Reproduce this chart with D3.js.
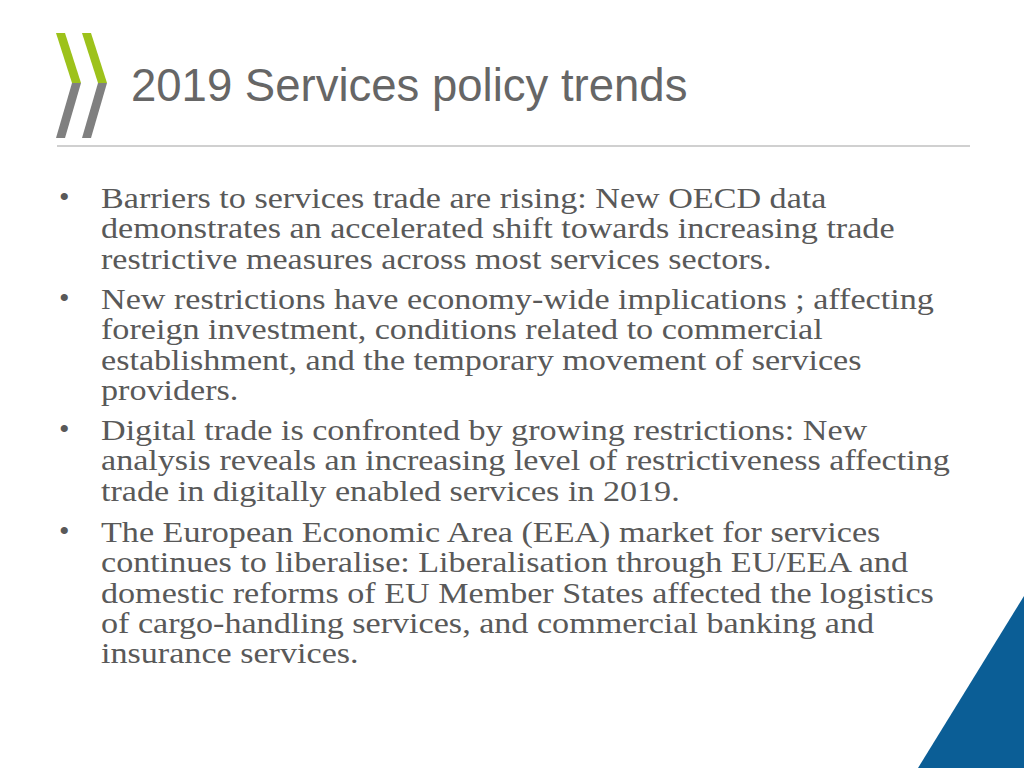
<!DOCTYPE html>
<html><head><meta charset="utf-8">
<script src="https://cdn.jsdelivr.net/npm/d3@7"></script>
<style>body{margin:0;background:#fff}</style></head>
<body><svg id="s" width="1024" height="768"></svg>
<script>
const title = "2019 Services policy trends";
const bullets = [
  ["Barriers to services trade are rising: New OECD data","demonstrates an accelerated shift towards increasing trade","restrictive measures across most services sectors."],
  ["New restrictions have economy-wide implications ; affecting","foreign investment, conditions related to commercial","establishment, and the temporary movement of services","providers."],
  ["Digital trade is confronted by growing restrictions: New","analysis reveals an increasing level of restrictiveness affecting","trade in digitally enabled services in 2019."],
  ["The European Economic Area (EEA) market for services","continues to liberalise: Liberalisation through EU/EEA and","domestic reforms of EU Member States affected the logistics","of cargo-handling services, and commercial banking and","insurance services."]
];
const svg = d3.select("#s");
[0,26].forEach(dx=>{
  svg.append("polygon").attr("points",[[56+dx,33],[65+dx,33],[81+dx,83],[72+dx,83]].join(" ")).attr("fill","#9dc21b");
  svg.append("polygon").attr("points",[[72+dx,83],[81+dx,83],[65+dx,138],[56+dx,138]].join(" ")).attr("fill","#808080");
});
svg.append("text").attr("x",131).attr("y",101).attr("font-family","Liberation Sans, Arial").attr("font-size",45.5).attr("fill","#666").text(title);
svg.append("line").attr("x1",57).attr("x2",970).attr("y1",146).attr("y2",146).attr("stroke","#c0c0c0").attr("stroke-width",1.5);
svg.append("polygon").attr("points","1024,596 1024,768 918,768").attr("fill","#0b5e96");
const starts=[208,309,440,542];
const g = svg.append("g").attr("transform","translate(101,0) scale(1.157,1)");
bullets.forEach((b,i)=>{
  svg.append("text").attr("x",59).attr("y",starts[i]-1).attr("font-family","Liberation Serif, Times New Roman").attr("font-size",30).attr("fill","#595959").text("•");
  b.forEach((l,j)=>g.append("text").attr("x",0).attr("y",starts[i]+j*30.3).attr("font-family","Liberation Serif, Times New Roman").attr("font-size",29.5).attr("fill","#595959").text(l));
});
</script></body></html>
